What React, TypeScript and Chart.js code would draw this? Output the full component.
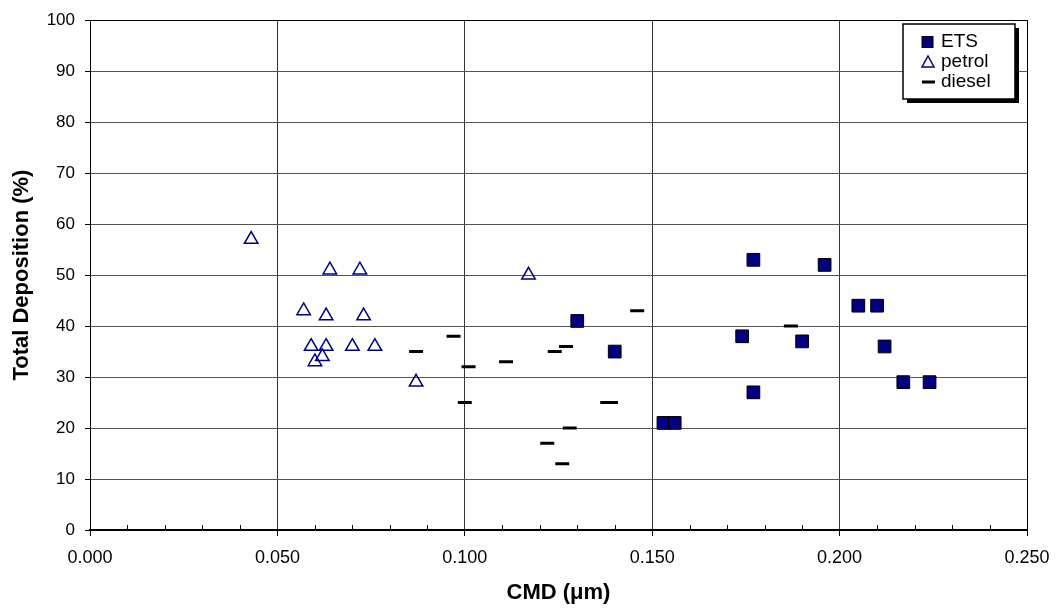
import React, { useEffect, useRef } from "react";
import { Chart, registerables } from "chart.js";

Chart.register(...registerables);

const etsX = [0.130, 0.140, 0.177, 0.196, 0.205, 0.210, 0.174, 0.190, 0.212, 0.177, 0.153, 0.156, 0.217, 0.224];
const etsY = [41, 35, 53, 52, 44, 44, 38, 37, 36, 27, 21, 21, 29, 29];

const petrolX = [0.043, 0.064, 0.072, 0.057, 0.063, 0.073, 0.059, 0.063, 0.070, 0.076, 0.062, 0.060, 0.087, 0.117];
const petrolY = [57, 51, 51, 43, 42, 42, 36, 36, 36, 36, 34, 33, 29, 50];

const dieselX = [0.087, 0.097, 0.101, 0.111, 0.124, 0.127, 0.100, 0.138, 0.139, 0.128, 0.122, 0.126, 0.146, 0.187];
const dieselY = [35, 38, 32, 33, 35, 36, 25, 25, 25, 20, 17, 13, 43, 40];

const seriesNames = ["ETS", "petrol", "diesel"];
const xTitle = "CMD (\u03bcm)";
const yTitle = "Total Deposition (%)";

const FONT = "'Liberation Sans', Arial, sans-serif";

const toPoints = (xs: number[], ys: number[]) => xs.map((x, i) => ({ x, y: ys[i] }));

const minorTicks = {
  id: "minorTicks",
  afterDatasetsDraw(chart: any) {
    const { ctx, scales } = chart;
    const xs = scales.x;
    const bottom = chart.chartArea.bottom;
    ctx.save();
    ctx.strokeStyle = "#000";
    ctx.lineWidth = 1;
    for (let i = 1; i < 25; i++) {
      if (i % 5 === 0) continue;
      const px = Math.round(xs.getPixelForValue(i / 100)) + 0.5;
      ctx.beginPath();
      ctx.moveTo(px, bottom);
      ctx.lineTo(px, bottom - 5);
      ctx.stroke();
    }
    ctx.restore();
  },
};

const legendBox = {
  id: "legendBox",
  afterDraw(chart: any) {
    const { ctx } = chart;
    const bx = 903, by = 24, bw = 112, bh = 75;
    ctx.save();
    ctx.fillStyle = "#000";
    ctx.fillRect(bx + 4, by + 4, bw, bh);
    ctx.fillStyle = "#fff";
    ctx.fillRect(bx, by, bw, bh);
    ctx.strokeStyle = "#000";
    ctx.lineWidth = 1.5;
    ctx.strokeRect(bx, by, bw, bh);

    // ETS
    ctx.fillStyle = "#000080";
    ctx.fillRect(922, 36.5, 11, 11);
    ctx.strokeStyle = "#000";
    ctx.lineWidth = 1;
    ctx.strokeRect(922, 36.5, 11, 11);
    // petrol
    ctx.beginPath();
    ctx.moveTo(928, 56);
    ctx.lineTo(934, 67);
    ctx.lineTo(922, 67);
    ctx.closePath();
    ctx.strokeStyle = "#000080";
    ctx.lineWidth = 1.5;
    ctx.stroke();
    // diesel
    ctx.beginPath();
    ctx.moveTo(922, 82);
    ctx.lineTo(935, 82);
    ctx.strokeStyle = "#000";
    ctx.lineWidth = 3;
    ctx.stroke();

    ctx.fillStyle = "#000";
    ctx.font = "19px " + FONT;
    ctx.textBaseline = "middle";
    ctx.textAlign = "left";
    ctx.fillText(seriesNames[0], 941, 42);
    ctx.fillText(seriesNames[1], 941, 62);
    ctx.fillText(seriesNames[2], 941, 82);
    ctx.restore();
  },
};

export default function App() {
  const ref = useRef<HTMLCanvasElement | null>(null);

  useEffect(() => {
    if (!ref.current) return;
    const chart = new Chart(ref.current, {
      type: "scatter",
      data: {
        datasets: [
          {
            label: seriesNames[0],
            data: toPoints(etsX, etsY),
            pointStyle: "rect",
            pointRadius: 9,
            pointHoverRadius: 9,
            backgroundColor: "#000080",
            borderColor: "#000",
            borderWidth: 1,
          },
          {
            label: seriesNames[1],
            data: toPoints(petrolX, petrolY),
            pointStyle: "triangle",
            pointRadius: 7.8,
            pointHoverRadius: 7.8,
            backgroundColor: "rgba(0,0,0,0)",
            borderColor: "#000080",
            borderWidth: 1.5,
          },
          {
            label: seriesNames[2],
            data: toPoints(dieselX, dieselY),
            pointStyle: "line",
            pointRadius: 7,
            pointHoverRadius: 7,
            borderColor: "#000",
            borderWidth: 3,
          },
        ],
      },
      options: {
        responsive: false,
        animation: false,
        devicePixelRatio: 1,
        layout: { autoPadding: false, padding: { top: 17, right: 30, left: 0, bottom: 0 } },
        plugins: {
          legend: { display: false },
          tooltip: { enabled: false },
        },
        scales: {
          x: {
            type: "linear",
            min: 0,
            max: 0.25,
            afterFit: (s: any) => {
              s.height = 82;
              s.paddingLeft = 0;
              s.paddingRight = 0;
            },
            ticks: {
              stepSize: 0.05,
              callback: (v: any) => Number(v).toFixed(3),
              color: "#000",
              font: { family: FONT, size: 18 },
              padding: 11,
              maxRotation: 0,
            },
            grid: {
              color: (c: any) => (c.index === 5 ? "#000" : "#333"),
              lineWidth: 1,
              tickLength: 6,
              tickColor: "#000",
            },
            border: { color: "#000", width: 2 },
            title: {
              display: true,
              text: xTitle,
              color: "#000",
              font: { family: FONT, size: 22, weight: "bold" },
              padding: { top: 0, bottom: 6 },
            },
          },
          y: {
            type: "linear",
            min: 0,
            max: 100,
            afterFit: (s: any) => {
              s.width = 90;
            },
            ticks: {
              stepSize: 10,
              color: "#000",
              font: { family: FONT, size: 17 },
              padding: 10,
            },
            grid: {
              color: (c: any) => (c.index === 10 ? "#000" : "#555"),
              lineWidth: 1,
              tickLength: 5,
              tickColor: "#000",
            },
            border: { color: "#000", width: 1 },
            title: {
              display: true,
              text: yTitle,
              color: "#000",
              font: { family: FONT, size: 22, weight: "bold" },
              padding: { top: 9, bottom: 0 },
            },
          },
        },
      },
      plugins: [minorTicks, legendBox],
    });
    return () => chart.destroy();
  }, []);

  return (
    <div style={{ position: "fixed", left: 0, top: 0, width: 1057, height: 612, background: "#fff" }}>
      <canvas ref={ref} width={1057} height={612} />
    </div>
  );
}
